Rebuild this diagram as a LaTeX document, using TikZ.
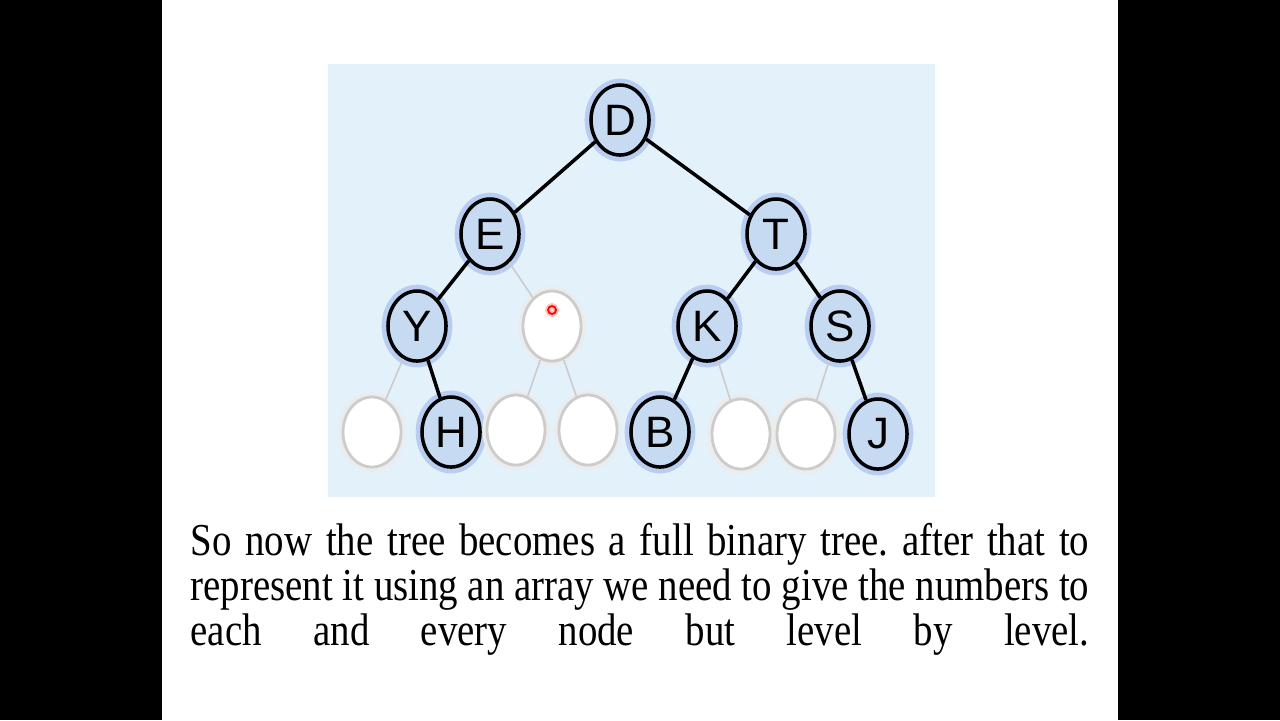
\documentclass[tikz,border=0pt]{standalone}
\usepackage{fontspec}
\setmainfont{Liberation Serif}
\setsansfont{Liberation Sans}
\usepackage{tikz}
\usepackage{xcolor}
\usetikzlibrary{shapes.geometric, positioning}

\definecolor{panelblue}{HTML}{E2F1FA}
\definecolor{nodeblue}{HTML}{C6DBF2}
\definecolor{glowblue}{HTML}{9DB6EC}

\begin{document}
\begin{tikzpicture}[x=0.01cm, y=-0.01cm,
    key/.style={ellipse, minimum width=0.58cm, minimum height=0.70cm, inner sep=0pt,
        draw=black, line width=1pt, fill=nodeblue, font=\sffamily\fontsize{12.5}{13}\selectfont,
        preaction={draw=glowblue, line width=3.6pt, opacity=0.6}},
    empty/.style={ellipse, minimum width=0.58cm, minimum height=0.70cm, inner sep=0pt,
        draw=gray!40, line width=0.8pt, fill=white,
        preaction={draw=gray!15, line width=2.6pt}},
    link/.style={draw=black, line width=1pt},
    ghost/.style={draw=gray!40, line width=0.45pt}]
    \useasboundingbox (0,0) rectangle (1280,720);
    \fill[black] (0,0) rectangle (162,720);
    \fill[black] (1118,0) rectangle (1280,720);
    \fill[white] (162,0) rectangle (1118,720);
    \fill[panelblue] (328,64) rectangle (935,497);

    \node[key] (d) at (620, 120) {D};
    \node[key] (e) at (490, 234) {E};
    \node[key] (t) at (776, 234) {T};
    \node[key] (y) at (417, 326) {Y};
    \node[empty] (ex) at (552, 326) {};
    \node[key] (k) at (707, 326) {K};
    \node[key] (s) at (840, 326) {S};
    \node[empty] (yl) at (372, 432) {};
    \node[key] (h) at (451, 432) {H};
    \node[empty] (exl) at (516, 430) {};
    \node[empty] (exr) at (588, 430) {};
    \node[key] (b) at (660, 432) {B};
    \node[empty] (kr) at (741, 434) {};
    \node[empty] (sl) at (806, 434) {};
    \node[key] (j) at (878, 434) {J};

    \draw
    (d) edge[link] (e)
    (d) edge[link] (t)
    (e) edge[link] (y)
    (e) edge[ghost] (ex)
    (t) edge[link] (k)
    (t) edge[link] (s)
    (y) edge[ghost] (yl)
    (y) edge[link] (h)
    (ex) edge[ghost] (exl)
    (ex) edge[ghost] (exr)
    (k) edge[link] (b)
    (k) edge[ghost] (kr)
    (s) edge[ghost] (sl)
    (s) edge[link] (j);

    % pointer mark
    \node[circle, draw=red, line width=0.5pt, inner sep=0pt, minimum size=0.08cm,
        preaction={draw=red!25, line width=1.6pt}] (mark) at (552, 310) {};

    \node[anchor=base west, inner sep=0pt] (caption) at (190, 555)
        {\scalebox{0.85}[1]{\parbox[t]{300.6pt}{\fontsize{13}{12.8}\selectfont\frenchspacing\parfillskip=0pt
        So now the tree becomes a full binary tree. after that to\linebreak
        represent it using an array we need to give the numbers to\linebreak
        each and every node but level by level.}}};
\end{tikzpicture}
\end{document}
